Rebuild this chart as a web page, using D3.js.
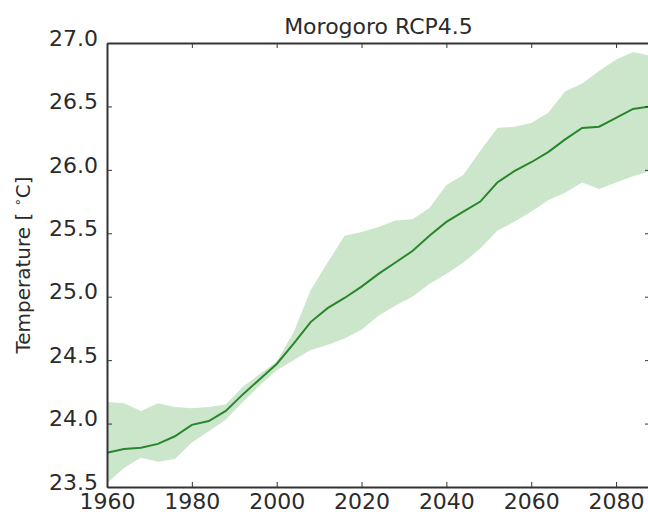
<!DOCTYPE html>
<html>
<head>
<meta charset="utf-8">
<script src="https://cdn.jsdelivr.net/npm/d3@7"></script>
<style>
  body { margin: 0; background: #fff; }
  svg { display: block; font-family: "DejaVu Sans", sans-serif; }
</style>
</head>
<body>
<svg width="648" height="515"></svg>
<script>
// Morogoro RCP4.5 – ensemble mean with min/max spread
const years = [1960, 1964, 1968, 1972, 1976, 1980, 1984, 1988, 1992, 1996, 2000, 2004, 2008, 2012, 2016, 2020,
               2024, 2028, 2032, 2036, 2040, 2044, 2048, 2052, 2056, 2060, 2064, 2068, 2072, 2076, 2080, 2084, 2088];
const meanTemp = [23.77, 23.80, 23.81, 23.84, 23.90, 23.99, 24.02, 24.10, 24.23, 24.35, 24.47, 24.63, 24.80, 24.91, 24.99, 25.08,
                  25.18, 25.27, 25.36, 25.48, 25.59, 25.67, 25.75, 25.90, 25.99, 26.06, 26.14, 26.24, 26.33, 26.34, 26.41, 26.48, 26.50];
const upperTemp = [24.17, 24.16, 24.10, 24.16, 24.13, 24.12, 24.13, 24.15, 24.29, 24.39, 24.49, 24.72, 25.05, 25.27, 25.48, 25.51,
                   25.55, 25.60, 25.61, 25.70, 25.88, 25.96, 26.15, 26.33, 26.34, 26.37, 26.45, 26.62, 26.68, 26.78, 26.87, 26.93, 26.90];
const lowerTemp = [23.53, 23.65, 23.73, 23.70, 23.72, 23.85, 23.94, 24.03, 24.17, 24.30, 24.42, 24.50, 24.58, 24.62, 24.67, 24.74,
                   24.85, 24.93, 25.00, 25.10, 25.18, 25.27, 25.38, 25.52, 25.59, 25.67, 25.76, 25.82, 25.90, 25.85, 25.90, 25.95, 25.99];
const xTicks = [1960, 1980, 2000, 2020, 2040, 2060, 2080];
const yTicks = [23.5, 24.0, 24.5, 25.0, 25.5, 26.0, 26.5, 27.0];

const svg = d3.select('svg');
const margin = {top: 43, left: 107};
const chartWidth = 543;
const chartHeight = 444;

const x = d3.scaleLinear().domain([1960, 2088]).range([margin.left, margin.left + chartWidth]);
const y = d3.scaleLinear().domain([23.5, 27.0]).range([margin.top + chartHeight, margin.top]);

const rows = years.map((yr, i) => ({year: yr, mean: meanTemp[i], lo: lowerTemp[i], hi: upperTemp[i]}));

// spread band
svg.append('path')
    .datum(rows)
    .attr('fill', '#008000')
    .attr('fill-opacity', 0.2)
    .attr('d', d3.area().x(d => x(d.year)).y0(d => y(d.lo)).y1(d => y(d.hi)));

// mean line
svg.append('path')
    .datum(rows)
    .attr('fill', 'none')
    .attr('stroke', '#2a862a')
    .attr('stroke-width', 2)
    .attr('d', d3.line().x(d => x(d.year)).y(d => y(d.mean)));

// axes, matplotlib classic style: ticks inside on every side
const tickLen = 5;
const styleAxis = g => {
    g.select('.domain').attr('stroke', '#333').attr('stroke-width', 2);
    g.selectAll('.tick line').attr('stroke', '#333').attr('stroke-width', 1);
    g.selectAll('.tick text').attr('fill', '#2b2b2b').attr('font-size', 22).attr('font-family', 'DejaVu Sans');
};

svg.append('g')
    .attr('transform', `translate(0,${margin.top + chartHeight})`)
    .call(d3.axisBottom(x).tickValues(xTicks).tickFormat(d3.format('d')).tickSize(-tickLen).tickSizeOuter(0).tickPadding(6))
    .call(styleAxis);

svg.append('g')
    .attr('transform', `translate(${margin.left},0)`)
    .call(d3.axisLeft(y).tickValues(yTicks).tickFormat(d3.format('.1f')).tickSize(-tickLen).tickSizeOuter(0).tickPadding(9))
    .call(styleAxis)
    .selectAll('.tick text').attr('dy', '0.1em');

svg.append('g')
    .attr('transform', `translate(0,${margin.top})`)
    .call(d3.axisTop(x).tickValues(xTicks).tickFormat('').tickSize(-tickLen).tickSizeOuter(0))
    .call(styleAxis);

svg.append('g')
    .attr('transform', `translate(${margin.left + chartWidth},0)`)
    .call(d3.axisRight(y).tickValues(yTicks).tickFormat('').tickSize(-tickLen).tickSizeOuter(0))
    .call(styleAxis);

// title
svg.append('text')
    .attr('x', margin.left + chartWidth / 2)
    .attr('y', 34)
    .attr('text-anchor', 'middle')
    .attr('font-size', 22)
    .attr('fill', '#2b2b2b')
    .text('Morogoro RCP4.5');

// y label
const ylab = svg.append('text')
    .attr('transform', `translate(30,${margin.top + chartHeight / 2}) rotate(-90)`)
    .attr('text-anchor', 'middle')
    .attr('font-size', 20)
    .attr('fill', '#2b2b2b');
ylab.append('tspan').text('Temperature [ ');
ylab.append('tspan').attr('font-size', 13).attr('dy', -8).text('∘');
ylab.append('tspan').attr('dy', 8).text('C]');
</script>
</body>
</html>
